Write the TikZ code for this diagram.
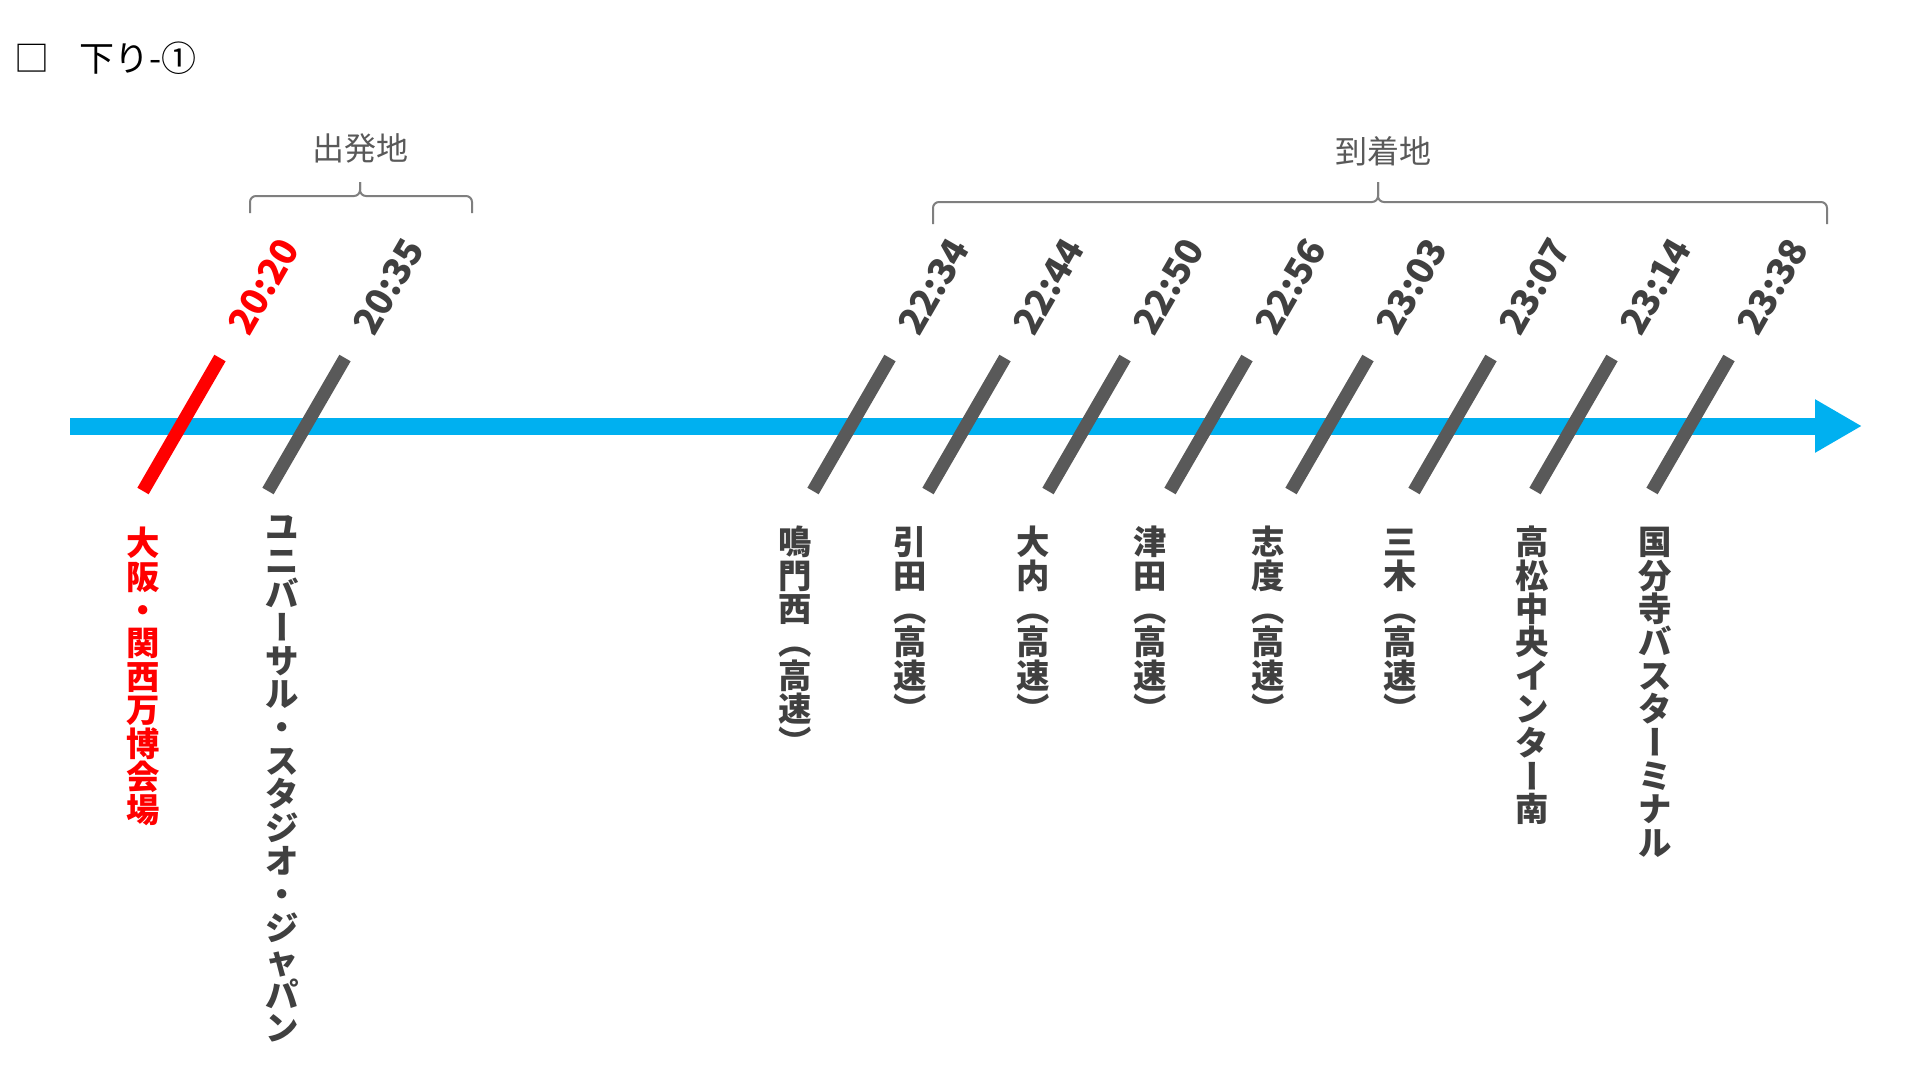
\documentclass[tikz,border=0pt]{standalone}
\usepackage{fontspec}
\setmainfont{Noto Sans CJK JP}
\usetikzlibrary{arrows.meta}
\definecolor{axisblue}{HTML}{00B0F0}
\definecolor{tickgray}{HTML}{595959}
\definecolor{txtgray}{HTML}{404040}
\definecolor{hdrgray}{HTML}{595959}
\definecolor{brgray}{HTML}{7F7F7F}
\definecolor{redc}{HTML}{FF0000}

\makeatletter
\newcommand\vtext[1]{\vt@loop#1\@nil}
\def\vt@loop#1{\ifx#1\@nil\else\vt@char{#1}\expandafter\vt@loop\fi}
\def\vt@plain#1{\makebox[1em][c]{\raisebox{0pt}[0.88em][0.12em]{#1}}}
\def\vt@rot#1{\rotatebox[origin=c]{90}{\vt@plain{#1}}}
\def\vt@char#1{%
  \ifnum`#1=`ー \vt@plain{#1}%
  \else\ifnum`#1=`（ \vt@plain{#1}%
  \else\ifnum`#1=`） \vt@plain{#1}%
  \else\ifnum`#1=`・ \vt@plain{#1}%
  \else\vt@rot{#1}\fi\fi\fi\fi}
\makeatother

\begin{document}
\begin{tikzpicture}[x=1pt,y=1pt,
  tickline/.style={line width=13pt},
  timelbl/.style={rotate=60, anchor=base west, inner sep=0pt,
    font=\fontsize{37}{37}\selectfont\bfseries},
  stoplbl/.style={rotate=-90, anchor=west, inner sep=0pt,
    font=\fontsize{33.4}{33.4}\selectfont\bfseries},
  hdr/.style={font=\fontsize{32}{32}\selectfont, text=hdrgray, inner sep=0pt},
  bracepath/.style={draw=brgray, line width=2pt, rounded corners=6pt},
  axisline/.style={draw=axisblue, line width=17pt,
    -{Triangle[length=47pt,width=50pt]}}]

\fill[white] (0,0) rectangle (1920,-1080);
\useasboundingbox (0,0) rectangle (1920,-1080);

% title
\node[anchor=west, inner sep=0pt, font=\fontsize{35}{35}\selectfont] (title)
  at (14,-58) {□\hspace{30pt}下り-①};

% headers and braces
\node[hdr] (dep) at (360,-148) {出発地};
\node[hdr] (arr) at (1383,-151) {到着地};
\coordinate (dL) at (250,-213);
\coordinate (dR) at (472,-213);
\coordinate (dM) at (360,-196);
\coordinate (dT) at (360,-182);
\draw[bracepath] (dL) |- (dM) -- (dT);
\draw[bracepath] (dR) |- (dM) -- (dT);
\coordinate (aL) at (933,-224);
\coordinate (aR) at (1827,-224);
\coordinate (aM) at (1378,-202);
\coordinate (aT) at (1378,-182);
\draw[bracepath] (aL) |- (aM) -- (aT);
\draw[bracepath] (aR) |- (aM) -- (aT);

% axis
\coordinate (axS) at (70,-426);
\coordinate (axE) at (1862,-426);
\draw[axisline] (axS) -- (axE);

% ticks and times
\foreach \n/\xt/\col/\tm in {a/220/redc/20:20, b/345/tickgray/20:35,
  c/890/tickgray/22:34, d/1005/tickgray/22:44, e/1125/tickgray/22:50,
  f/1247/tickgray/22:56, g/1368/tickgray/23:03, h/1491/tickgray/23:07,
  i/1612/tickgray/23:14, j/1729/tickgray/23:38}{
  \coordinate (top\n) at (\xt,-358);
  \coordinate (bot\n) at (\xt-77,-491);
  \draw[tickline, draw=\col] (bot\n) -- (top\n);
}
\foreach \n/\xt/\col/\tm in {a/220/redc/20:20, b/345/txtgray/20:35,
  c/890/txtgray/22:34, d/1005/txtgray/22:44, e/1125/txtgray/22:50,
  f/1247/txtgray/22:56, g/1368/txtgray/23:03, h/1491/txtgray/23:07,
  i/1612/txtgray/23:14, j/1729/txtgray/23:38}{
  \node[timelbl, text=\col] (time\n) at (\xt+29,-338) {\tm};
}

% stop names
\foreach \n/\x/\y/\col/\txt in {
  a/143/526/redc/大阪・関西万博会場,
  b/282/510/txtgray/ユニバーサル・スタジオ・ジャパン,
  c/795/525/txtgray/鳴門西（高速）,
  d/910/525/txtgray/引田（高速）,
  e/1033/525/txtgray/大内（高速）,
  f/1150/525/txtgray/津田（高速）,
  g/1268/525/txtgray/志度（高速）,
  h/1400/525/txtgray/三木（高速）,
  i/1532/525/txtgray/高松中央インター南,
  j/1655/525/txtgray/国分寺バスターミナル}{
  \node[stoplbl, text=\col] (stop\n) at (\x,-\y) {\expandafter\vtext\expandafter{\txt}};
}
\end{tikzpicture}
\end{document}
